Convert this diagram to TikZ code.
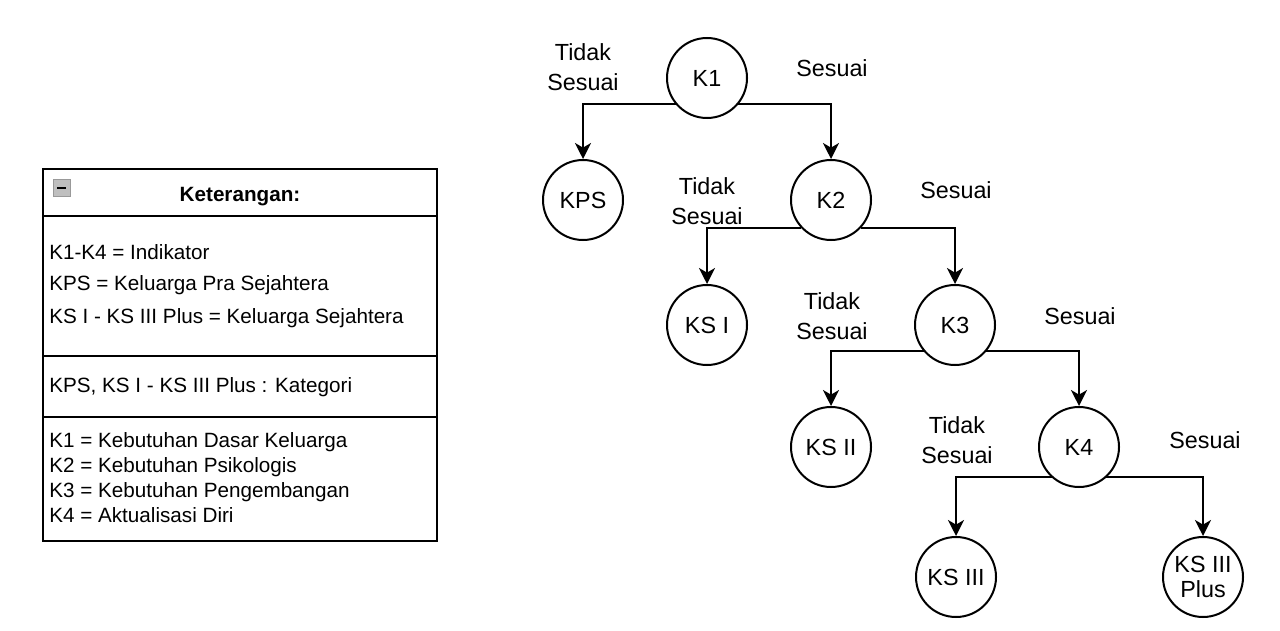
\documentclass[tikz,border=0pt]{standalone}
\usepackage{fontspec}
\setmainfont{Liberation Sans}
\usetikzlibrary{arrows.meta,positioning}

\begin{document}
\begin{tikzpicture}[
    x=0.75pt, y=-0.75pt,
    state/.style={
        circle, draw, line width=1.5pt, minimum size=60pt, inner sep=0pt,
        align=center, font=\fontsize{17.5}{19}\selectfont
    },
    branch/.style={align=center, font=\fontsize{17.5}{22.5}\selectfont},
    flow/.style={-{Stealth[length=12pt,width=12pt,inset=3.5pt]}, line width=1.5pt},
    legend/.style={anchor=west, inner sep=0pt, align=left, font=\fontsize{15.5}{18.75}\selectfont}
]
\useasboundingbox (0,0) rectangle (1280,631);

% Legend box
\draw[line width=1.5pt] (43,169) rectangle (437,541);
\draw[line width=1.5pt] (43,216) -- (437,216);
\draw[line width=1.5pt] (43,356) -- (437,356);
\draw[line width=1.5pt] (43,417) -- (437,417);
\draw[draw=gray!80, fill=gray!50] (53,179) rectangle (70,196);
\draw[line width=1.5pt] (57,187.5) -- (66,187.5);

\node[legend, anchor=center, font=\fontsize{15.5}{18.75}\selectfont\bfseries] (title) at (240,197) {Keterangan:};
\node[legend] (lgA) at (49,252) {K1-K4 = Indikator};
\node[legend] (lgB) at (49,285) {KPS = Keluarga Pra Sejahtera};
\node[legend] (lgC) at (49,318) {KS I - KS III Plus = Keluarga Sejahtera};
\node[legend] (lgD) at (49,387) {KPS, KS I - KS III Plus : Kategori};
\node[legend] (lgE) at (49,478) {K1 = Kebutuhan Dasar Keluarga\\K2 = Kebutuhan Psikologis\\K3 = Kebutuhan Pengembangan\\K4 = Aktualisasi Diri};

% Decision tree
\node[state] (k1) at (707,78) {K1};
\node[state] (kps) at (583,200) {KPS};
\node[state] (k2) at (831,200) {K2};
\node[state] (ks1) at (707,325) {KS I};
\node[state] (k3) at (955,325) {K3};
\node[state] (ks2) at (831,447) {KS II};
\node[state] (k4) at (1079,447) {K4};
\node[state] (ks3) at (956,577) {KS III};
\node[state] (ks3p) at (1203,577) {KS III\\Plus};

% Branch labels
\node[branch] (no1) at (583,67) {Tidak\\Sesuai};
\node[branch] (yes1) at (832,68) {Sesuai};
\node[branch] (no2) at (707,201) {Tidak\\Sesuai};
\node[branch] (yes2) at (956,190) {Sesuai};
\node[branch] (no3) at (832,316) {Tidak\\Sesuai};
\node[branch] (yes3) at (1080,316) {Sesuai};
\node[branch] (no4) at (957,440) {Tidak\\Sesuai};
\node[branch] (yes4) at (1205,440) {Sesuai};

% Arrows
\draw[flow] (k1.-140) -| (kps);
\draw[flow] (k1.-40) -| (k2);
\draw[flow] (k2.-137) -| (ks1);
\draw[flow] (k2.-43) -| (k3);
\draw[flow] (k3.-140) -| (ks2);
\draw[flow] (k3.-40) -| (k4);
\draw[flow] (k4.-132) -| (ks3);
\draw[flow] (k4.-48) -| (ks3p);

\end{tikzpicture}
\end{document}
